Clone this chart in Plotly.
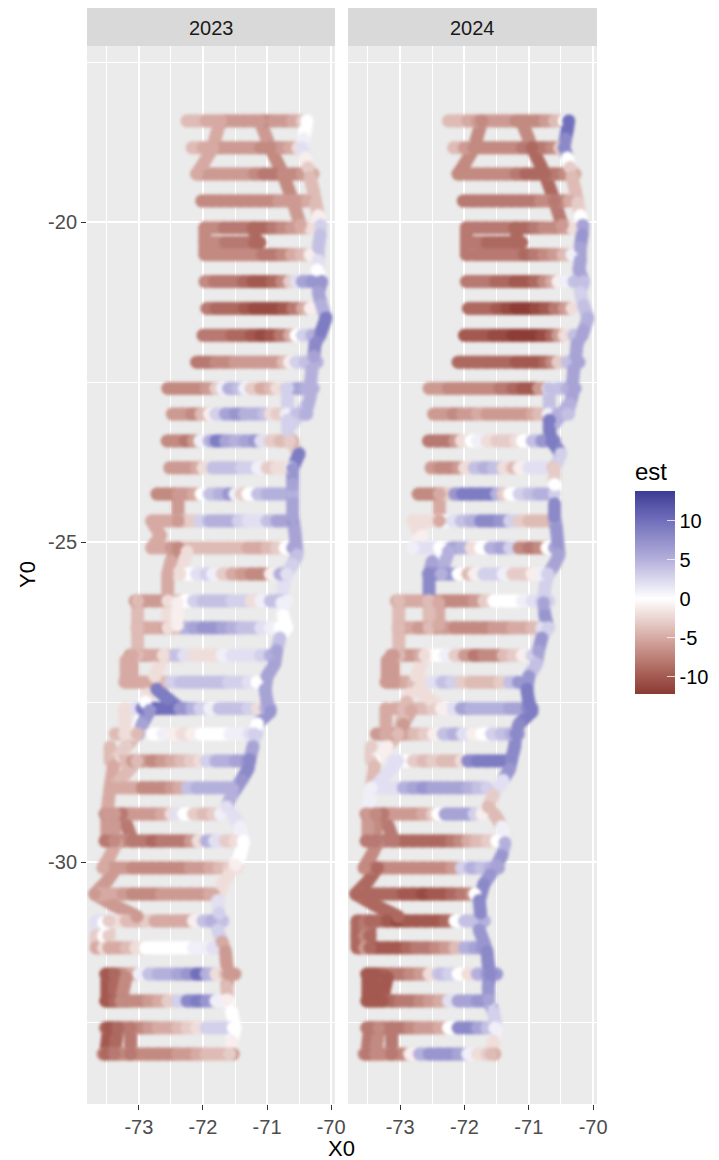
import plotly.graph_objects as go
from plotly.colors import sample_colorscale

W, H = 719, 1160
years = ["2023", "2024"]
x_ticks = [-73, -72, -71, -70]
x_labels = ["-73", "-72", "-71", "-70"]
x_minor = [-73.5, -72.5, -71.5, -70.5]
y_ticks = [-20, -25, -30]
y_labels = ["-20", "-25", "-30"]
y_minor = [-17.5, -22.5, -27.5, -32.5]
est_ticks = [10, 5, 0, -5, -10]
est_min, est_max = -12.2, 13.8
N = None

# survey transects: latitude, longitudes, est in each year
row_lat = [-18.42, -18.84, -19.25, -19.67, -20.09, -20.32, -20.51, -20.93, -21.35, -21.77, -22.19, -22.6,
           -23.0, -23.42, -23.84, -24.25, -24.67, -25.09, -25.5, -25.92, -26.34, -26.77, -27.19, -27.6,
           -28.0, -28.42, -28.84, -29.25, -29.67, -30.09, -30.5, -30.92, -31.34, -31.75, -32.17, -32.59, -33.0]
row_lon = [
 [-72.25,-72.1,-71.95,-71.8,-71.65,-71.5,-71.35,-71.2,-71.05,-70.9,-70.75,-70.6,-70.45,-70.38],
 [-72.17,-72.0,-71.85,-71.7,-71.55,-71.4,-71.25,-71.1,-70.95,-70.8,-70.65,-70.52,-70.45],
 [-72.1,-71.95,-71.8,-71.65,-71.5,-71.35,-71.2,-71.05,-70.9,-70.75,-70.6,-70.45,-70.28],
 [-72.02,-71.87,-71.72,-71.57,-71.42,-71.27,-71.12,-70.97,-70.82,-70.67,-70.52,-70.37],
 [-71.97,-71.82,-71.67,-71.52,-71.37,-71.22,-71.07,-70.92,-70.77,-70.62,-70.47,-70.33],
 [-71.94,-71.8,-71.65,-71.5,-71.35,-71.2,-71.11],
 [-71.97,-71.82,-71.67,-71.52,-71.37,-71.22,-71.07,-70.92,-70.77,-70.62,-70.47,-70.33],
 [-71.97,-71.82,-71.67,-71.52,-71.37,-71.22,-71.07,-70.92,-70.77,-70.65,-70.55,-70.45,-70.3,-70.15],
 [-71.94,-71.8,-71.65,-71.5,-71.35,-71.2,-71.05,-70.9,-70.75,-70.6,-70.45,-70.33],
 [-72.0,-71.85,-71.7,-71.55,-71.4,-71.25,-71.1,-70.95,-70.8,-70.65,-70.55,-70.45,-70.3,-70.17],
 [-72.1,-71.95,-71.8,-71.65,-71.5,-71.35,-71.2,-71.05,-70.9,-70.75,-70.65,-70.55,-70.4,-70.22],
 [-72.55,-72.4,-72.25,-72.1,-71.95,-71.8,-71.7,-71.6,-71.45,-71.35,-71.25,-71.1,-70.95,-70.85,-70.7,-70.55,-70.4,-70.28],
 [-72.48,-72.33,-72.18,-72.03,-71.9,-71.8,-71.65,-71.5,-71.35,-71.2,-71.05,-70.95,-70.85,-70.7,-70.55,-70.38],
 [-72.56,-72.42,-72.28,-72.15,-72.05,-71.9,-71.8,-71.65,-71.5,-71.35,-71.2,-71.1,-70.95,-70.8,-70.6],
 [-72.52,-72.38,-72.24,-72.1,-72.0,-71.85,-71.7,-71.55,-71.4,-71.25,-71.15,-71.0,-70.85,-70.62],
 [-72.72,-72.58,-72.44,-72.3,-72.15,-72.03,-71.9,-71.75,-71.6,-71.5,-71.4,-71.3,-71.15,-71.0,-70.85,-70.6],
 [-72.8,-72.65,-72.5,-72.35,-72.2,-72.05,-71.9,-71.75,-71.6,-71.45,-71.3,-71.15,-71.0,-70.85,-70.6],
 [-72.8,-72.65,-72.5,-72.35,-72.2,-72.05,-71.9,-71.75,-71.6,-71.45,-71.3,-71.15,-71.0,-70.85,-70.72,-70.6],
 [-72.56,-72.4,-72.25,-72.1,-71.95,-71.85,-71.7,-71.55,-71.4,-71.25,-71.1,-70.95,-70.8,-70.72],
 [-73.06,-72.9,-72.75,-72.6,-72.45,-72.3,-72.15,-72.0,-71.85,-71.7,-71.55,-71.4,-71.25,-71.1,-70.95,-70.8,-70.69],
 [-73.03,-72.88,-72.72,-72.58,-72.45,-72.3,-72.15,-72.0,-71.85,-71.7,-71.55,-71.4,-71.25,-71.1,-70.95,-70.8,-70.69],
 [-73.14,-73.0,-72.85,-72.7,-72.58,-72.45,-72.3,-72.15,-72.0,-71.85,-71.7,-71.55,-71.4,-71.25,-71.1,-70.95],
 [-73.22,-73.08,-72.94,-72.8,-72.65,-72.5,-72.35,-72.2,-72.05,-71.9,-71.75,-71.6,-71.45,-71.3,-71.16],
 [-73.1,-72.95,-72.8,-72.65,-72.5,-72.35,-72.2,-72.05,-71.9,-71.75,-71.6,-71.45,-71.3,-71.15,-71.02,-70.95],
 [-73.37,-73.22,-73.08,-72.93,-72.78,-72.63,-72.48,-72.33,-72.18,-72.03,-71.88,-71.73,-71.58,-71.43,-71.28,-71.16],
 [-73.4,-73.25,-73.1,-72.95,-72.8,-72.65,-72.5,-72.35,-72.2,-72.05,-71.95,-71.8,-71.65,-71.5,-71.31],
 [-73.4,-73.25,-73.1,-72.95,-72.8,-72.65,-72.5,-72.38,-72.25,-72.1,-71.95,-71.8,-71.65,-71.53],
 [-73.53,-73.4,-73.25,-73.1,-72.95,-72.8,-72.65,-72.5,-72.42,-72.3,-72.15,-72.0,-71.85,-71.73],
 [-73.53,-73.4,-73.25,-73.1,-72.95,-72.8,-72.65,-72.5,-72.35,-72.2,-72.08,-71.95,-71.82,-71.65,-71.5,-71.37],
 [-73.56,-73.4,-73.25,-73.1,-72.95,-72.8,-72.65,-72.5,-72.35,-72.2,-72.05,-71.9,-71.75,-71.6,-71.47],
 [-73.69,-73.55,-73.4,-73.25,-73.1,-72.95,-72.8,-72.65,-72.5,-72.35,-72.2,-72.05,-71.9,-71.84],
 [-73.66,-73.5,-73.35,-73.2,-73.05,-72.9,-72.75,-72.6,-72.45,-72.3,-72.15,-72.0,-71.87,-71.69],
 [-73.66,-73.5,-73.35,-73.2,-73.05,-72.9,-72.75,-72.6,-72.45,-72.3,-72.15,-72.0,-71.85,-71.73],
 [-73.52,-73.42,-73.28,-73.13,-73.0,-72.85,-72.7,-72.55,-72.4,-72.25,-72.1,-71.95,-71.8,-71.65,-71.5],
 [-73.52,-73.42,-73.28,-73.13,-73.0,-72.85,-72.7,-72.55,-72.4,-72.25,-72.1,-71.95,-71.8,-71.6],
 [-73.52,-73.42,-73.28,-73.13,-73.0,-72.85,-72.7,-72.55,-72.4,-72.25,-72.1,-71.95,-71.8,-71.65,-71.53],
 [-73.56,-73.45,-73.3,-73.15,-73.0,-72.85,-72.7,-72.55,-72.4,-72.25,-72.1,-71.95,-71.8,-71.65,-71.53],
]
row_est_2023 = [
 [-4,-4,-5,-5,-6,-6,-6,-6,-7,-6,-6,-5,-3,0],
 [-4,-5,-6,-6,-6,-6,-6,-7,-7,-6,-5,-2,1],
 [-6,-6,-6,-6,-6,-6,-7,-8,-8,-7,-7,-6,-5],
 [-7,-7,-7,-7,-7,-7,-7,-7,-6,-6,-6,-5],
 [-7,-7,-8,-8,-8,-9,-9,-8,-7,-6,-5,-2],
 [-7,-7,-8,-8,-8,-9,-9],
 [-7,-7,-7,-7,-7,-7,-8,-8,-7,-5,-4,-1],
 [-7,-8,-8,-8,-9,-10,-10,-9,-7,-3,2,6,7,7],
 [-8,-9,-9,-9,-10,-11,-11,-11,-10,-8,-5,-1],
 [-8,-8,-8,-9,-9,-10,-11,-10,-8,-5,0,3,5,8],
 [-8,-8,-7,-7,-6,-6,-6,-6,-6,-4,-1,3,4,5],
 [-7,-7,-7,-7,-6,-3,1,5,4,1,-3,-5,-4,-2,3,6,5,5],
 [-6,-6,-7,-4,-1,3,6,7,5,5,4,-2,-3,1,4,5],
 [-7,-7,-8,-6,1,5,9,6,5,6,7,2,-3,-4,-5],
 [-6,-6,-6,-5,-2,4,4,4,3,3,1,-3,-2,0],
 [-7,-7,-7,-6,-5,0,4,5,7,1,-3,0,4,5,5,5],
 [-5,-5,-5,-4,-3,3,5,5,5,3,2,2,4,6,7],
 [-5,-5,-6,-4,-4,-4,-4,-4,-4,-4,-5,-5,-4,-3,0,6],
 [N,-2,0,2,3,1,-3,-5,-6,-7,-7,-1,5,6],
 [-6,-6,-6,-6,-4,0,3,4,4,4,3,3,-2,1,4,4,1],
 [-5,-5,-5,-6,-4,5,6,7,7,6,5,4,4,2,1,0,0],
 [-6,-6,-5,-5,-3,4,2,-2,-2,-2,1,2,2,2,3,5],
 [-5,-5,-5,-5,-4,3,4,4,4,4,4,3,3,2,0],
 [2,9,11,10,10,8,5,3,1,4,4,4,3,-2,5,6],
 [-4,-3,-2,-1,0,1,-1,-2,-1,0,0,0,1,1,2,3],
 [-4,-4,-6,-6,-7,-6,-5,-4,-3,-2,3,5,5,6,7],
 [-5,-5,-5,-7,-7,-7,-6,-5,4,5,5,5,5,5],
 [-7,-7,-7,-6,-6,-6,-5,-2,2,0,-3,-4,-3,1],
 [-8,-8,-7,-8,-8,-9,-8,-8,-8,-6,-2,5,2,-3,-2,0],
 [-6,-6,-6,-7,-7,-7,-7,-7,-7,-6,-6,-5,-4,-3,-2],
 [-4,-5,-5,-6,-7,-7,-7,-6,-6,-6,-6,-6,-5,-5],
 [2,1,-2,-4,-4,-3,-5,-5,-5,-5,-1,4,5,4],
 [-6,-5,-5,-4,-2,0,0,0,0,0,1,1,2,2],
 [-9,-9,-7,-5,1,4,5,5,6,7,10,5,-2,-4,-6],
 [-10,-10,-9,-7,-7,-6,-5,-3,3,8,9,7,1,0],
 [-9,-9,-8,-7,-7,-6,-5,-5,-4,-3,-2,3,3,3,0],
 [-7,-7,-7,-7,-7,-7,-7,-7,-6,-6,-5,-4,-4,-4,-6],
]
row_est_2024 = [
 [-4,-4,-5,-6,-6,-6,-6,-7,-7,-7,-6,-4,0,8],
 [-4,-6,-7,-7,-7,-7,-7,-8,-9,-8,-7,-3,3],
 [-7,-7,-7,-7,-7,-7,-8,-9,-9,-8,-8,-7,-5],
 [-8,-8,-8,-8,-8,-8,-8,-8,-7,-7,-7,-5],
 [-8,-8,-8,-8,-8,-9,-9,-8,-7,-7,-6,-2],
 [-8,-8,-9,-9,-9,-9,-9],
 [-7,-8,-8,-8,-8,-8,-9,-8,-7,-6,-4,1],
 [-8,-8,-8,-9,-9,-10,-10,-9,-7,-5,-1,1,4,6],
 [-9,-9,-9,-10,-11,-12,-12,-11,-10,-8,-6,-2],
 [-10,-10,-10,-11,-11,-12,-12,-12,-11,-9,-6,-2,4,6],
 [-9,-9,-9,-9,-9,-9,-10,-10,-10,-9,-7,-3,4,6],
 [-6,-6,-7,-7,-7,-7,-7,-7,-8,-8,-9,-10,-10,-6,1,4,5,6],
 [-6,-6,-7,-6,-6,-5,-6,-6,-6,-6,-6,-5,-4,1,5,4],
 [-8,-8,-8,-6,-2,0,1,-2,-3,-3,-2,0,4,7,8],
 [-6,-7,-7,-6,-2,4,5,4,-2,-4,-1,2,2,-4],
 [-7,-7,-7,-3,7,9,9,9,9,5,-3,0,3,4,5,3],
 [-2,-2,-2,0,2,4,5,8,8,7,3,-3,-4,-4,6],
 [2,2,2,1,6,5,-2,0,5,6,3,-7,-8,-7,0,6],
 [8,8,7,0,-4,-1,3,3,1,-3,-3,-1,1,2],
 [-5,-5,-5,-5,-6,-7,-7,-7,-6,-3,0,0,0,1,2,3,3],
 [-5,-5,-6,-6,-6,-6,-7,-7,-7,-7,-6,-6,-5,-5,-4,2,3],
 [-6,-6,-6,-5,-1,0,1,-3,-6,-8,-7,-7,-4,-3,-1,3],
 [-6,-6,-5,-4,-2,2,4,3,-3,-4,-4,-4,-3,4,7],
 [-5,-4,-4,-4,-3,-1,2,6,5,5,5,5,6,6,8,9],
 [-6,-6,-6,-5,-4,-3,-1,4,5,2,-1,0,3,4,5,7],
 [N,N,2,0,-3,-4,-3,-4,-4,-2,8,9,9,9,9],
 [2,2,2,5,6,7,6,6,6,6,5,4,3,N],
 [-7,-7,-7,-6,-6,-6,-5,-3,0,6,6,6,3,-1],
 [-8,-8,-8,-8,-9,-9,-9,-9,-9,-8,-7,-5,-4,-3,0,N],
 [-8,-8,-7,-7,-7,-7,-7,-7,-7,-6,3,5,4,5,6],
 [-8,-9,-9,-9,-9,-10,-10,-11,-10,-10,-9,-8,-7,0],
 [-8,-8,-9,-10,-11,-10,-10,-10,-10,-9,0,4,4,5],
 [-9,-9,-10,-10,-10,-9,-8,-8,-7,-6,-4,5,6,7],
 [-10,-10,-9,-8,-8,-7,-6,-2,4,3,0,-2,5,7,7],
 [-10,-10,-9,-9,-8,-8,-7,-6,-5,2,6,6,7,1],
 [-8,-8,-8,-8,-8,-7,-6,-6,-5,0,8,8,6,4,1],
 [-7,-7,-7,-7,-7,-1,5,7,7,7,6,1,-2,-3,-5],
]

# connecting tracks and the coastal track
path_lon = [
 [-71.73,-71.85,-72.0,-72.1],
 [-71.11,-70.95,-70.75,-70.6,-70.48],
 [-71.97,-71.97,-71.97],
 [-71.19,-71.19],
 [-72.39,-72.39],
 [-72.8,-72.66,-72.8],
 [-72.39,-72.5,-72.55,-72.55],
 [-72.25,-72.36],
 [-72.55,-72.55],
 [-73.02,-73.02,-73.02],
 [-72.4,-72.4],
 [-73.1,-73.1],
 [-73.2,-73.2],
 [-72.62,-72.75,-72.9,-73.03],
 [-72.72,-72.55,-72.36],
 [-72.83,-72.95,-73.0],
 [-73.22,-73.22],
 [-73.03,-73.2,-73.4],
 [-73.45,-73.45],
 [-73.03,-73.4],
 [-73.4,-73.45,-73.5,-73.5],
 [-73.27,-73.18,-73.1],
 [-73.35,-73.45,-73.56],
 [-73.35,-73.5,-73.69,-73.4,-73.03],
 [-73.67,-73.67,-73.67],
 [-73.55,-73.55,-73.55],
 [-73.5,-73.5],
 [-73.38,-73.38],
 [-73.2,-73.28],
 [-73.47,-73.52],
 [-73.33,-73.38],
 [-73.13,-73.13],
 [-70.68,-70.68],
 [-70.38,-70.6],
 [-73.38,-73.38],
 [-73.47,-73.47,-73.47],
 [-70.38,-70.4,-70.43,-70.45,-70.4,-70.36,-70.33,-70.28,-70.24,-70.2,-70.16,-70.17,-70.2,-70.2,-70.22,-70.15,-70.2,-70.15,-70.08,-70.15,-70.25,-70.27,-70.3,-70.32,-70.32,-70.36,-70.4],
 [-70.68,-70.68,-70.64,-70.5,-70.6,-70.6,-70.6,-70.6,-70.57,-70.55,-70.53,-70.6,-70.7,-70.75,-70.77,-70.75,-70.7,-70.8,-70.85,-70.88,-71.0,-71.03,-71.0,-70.95,-71.15,-71.2,-71.22,-71.27,-71.3,-71.4,-71.55,-71.63,-71.5,-71.42,-71.37,-71.42,-71.5,-71.6,-71.7,-71.77,-71.75,-71.77,-71.7,-71.65,-71.63,-71.6,-71.63,-71.62,-71.55,-71.5,-71.55,-71.58],
]
path_lat = [
 [-18.42,-18.84,-19.1,-19.25],
 [-18.42,-18.84,-19.25,-19.67,-20.05],
 [-20.09,-20.32,-20.51],
 [-20.09,-20.32],
 [-24.25,-24.67],
 [-24.67,-24.9,-25.09],
 [-25.09,-25.3,-25.5,-25.92],
 [-25.15,-25.5],
 [-25.92,-26.34],
 [-25.92,-26.34,-26.77],
 [-25.95,-26.3],
 [-26.77,-27.19],
 [-26.85,-27.19],
 [-26.77,-27.1,-27.5,-28.0],
 [-27.3,-27.45,-27.6],
 [-27.63,-27.85,-28.0],
 [-27.6,-28.0],
 [-28.0,-28.2,-28.42],
 [-28.2,-28.42],
 [-28.42,-28.84],
 [-28.5,-28.84,-29.25,-29.67],
 [-29.25,-29.45,-29.67],
 [-29.7,-29.9,-30.09],
 [-30.09,-30.3,-30.5,-30.67,-30.85],
 [-30.92,-31.15,-31.34],
 [-30.95,-31.15,-31.34],
 [-31.75,-32.17],
 [-31.75,-32.17],
 [-31.8,-32.17],
 [-32.59,-33.0],
 [-32.59,-33.0],
 [-32.59,-33.0],
 [-22.6,-23.1],
 [-22.85,-23.15],
 [-29.25,-29.67],
 [-30.92,-31.15,-31.34],
 [-18.42,-18.55,-18.7,-18.84,-19.0,-19.15,-19.3,-19.5,-19.7,-19.9,-20.05,-20.2,-20.4,-20.6,-20.75,-20.93,-21.1,-21.3,-21.5,-21.7,-21.9,-22.1,-22.3,-22.5,-22.7,-22.85,-23.0],
 [-23.1,-23.25,-23.42,-23.62,-23.85,-24.1,-24.4,-24.6,-24.8,-25.0,-25.2,-25.35,-25.5,-25.7,-25.95,-26.15,-26.34,-26.5,-26.7,-26.9,-27.1,-27.3,-27.5,-27.65,-27.84,-28.0,-28.2,-28.4,-28.55,-28.72,-28.95,-29.14,-29.3,-29.45,-29.7,-29.9,-30.05,-30.2,-30.35,-30.6,-30.8,-31.06,-31.25,-31.4,-31.6,-31.75,-31.95,-32.15,-32.35,-32.6,-32.8,-33.0],
]
path_est_2023 = [
 [-5,-5,-5,-5],
 [-6,-7,-7,-6,-5],
 [-7,-7,-7],
 [-9,-9],
 [-6,-6],
 [-5,-5,-5],
 [-7,-5,-5,-5],
 [-2,-2],
 [-2,-2],
 [-4,-4,-4],
 [-1,-1],
 [-5,-5],
 [-5,-5],
 [-2,-2,0,0],
 [9,9,7],
 [7,6,5],
 [-2,-2],
 [-4,-3,-2],
 [-4,-4],
 [-4,-5],
 [-5,-5,-6,-8],
 [-8,-8,-8],
 [-5,-5,-5],
 [-6,-6,-6,-6,-6],
 [2,-3,-5],
 [0,0,-2],
 [-10,-10],
 [-9,-9],
 [-7,-7],
 [-10,-9],
 [-9,-8],
 [-8,-8],
 [3,3],
 [3,3],
 [-6,-7],
 [-3,-3,-5],
 [0,0,1,2,-1,-3,-4,-4,-4,-1,3,4,4,2,0,7,6,5,9,9,8,6,5,5,5,5,5],
 [3,3,-3,9,7,6,6,6,6,6,4,3,2,2,1,0,0,4,6,6,6,6,6,7,0,3,6,8,8,7,5,2,2,1,0,0,-1,-2,-2,2,3,3,-5,-6,-6,-6,-4,-1,0,0,-1,-3],
]
path_est_2024 = [
 [-7,-7,-7,-7],
 [-7,-9,-9,-8,-6],
 [-8,-8,-8],
 [-9,-9],
 [-5,-5],
 [-2,-1,1],
 [0,6,8,1],
 [5,5],
 [-4,-4],
 [-4,-4,-4],
 [-5,-5],
 [-6,-6],
 [-6,-6],
 [-2,-2,-4,-5],
 [-2,-2,-1],
 [-5,-6,-6],
 [-5,-5],
 [-4,-1,0],
 [-3,-3],
 [2,2],
 [-4,1,-6,-8],
 [-8,-8,-8],
 [-7,-7,-7],
 [-9,-9,-9,-9,-9],
 [-9,-9,-9],
 [-8,-7,-6],
 [-10,-10],
 [-10,-10],
 [-10,-10],
 [-8,-8],
 [-7,-7],
 [-8,-8],
 [4,9],
 [5,5],
 [-7,-8],
 [-9,-9,-9],
 [10,10,8,8,0,-3,-4,-4,-3,0,6,7,6,6,6,4,3,4,5,6,6,6,6,6,6,5,4],
 [9,9,9,3,-3,0,8,8,7,7,6,6,3,3,6,7,3,7,6,4,7,9,9,9,8,8,8,8,7,2,-3,-4,-4,1,5,7,6,7,8,8,8,7,7,8,8,8,7,6,3,1,-2,-4],
]

stops = [(-12.2, "#8b3a33"), (-10, "#a3594f"), (-5, "#d6aaa3"), (0, "#ffffff"),
         (5, "#b4b0dc"), (10, "#716fbb"), (13.8, "#3c3c96")]
colorscale = [[(v - est_min) / (est_max - est_min), c] for v, c in stops]


def colour(v):
    return sample_colorscale(colorscale, [(v - est_min) / (est_max - est_min)])[0]


fig = go.Figure()
px_x = lambda a: a / W
px_y = lambda a: 1 - a / H
panels = [(87, 335), (348, 597)]
LINE_W, MARKER = 13, 13

for i, (year, row_est, path_est) in enumerate(zip(years, (row_est_2023, row_est_2024), (path_est_2023, path_est_2024))):
    xa, ya = ("x", "y") if i == 0 else ("x2", "y2")
    mx, my, mc = [], [], []
    segs = {}

    def add(lons, lats, ests):
        for k, (a, b, c) in enumerate(zip(lons, lats, ests)):
            if c is None:
                continue
            mx.append(a); my.append(b); mc.append(c)
            if k + 1 < len(lons) and k + 1 < len(ests) and ests[k + 1] is not None:
                s = segs.setdefault(c, ([], []))
                s[0].extend([a, lons[k + 1], None])
                s[1].extend([b, lats[k + 1], None])

    for lat, lons, ests in zip(row_lat, row_lon, row_est):
        add(lons, [lat] * len(lons), ests)
    for lons, lats, ests in zip(path_lon, path_lat, path_est):
        add(lons, lats, ests)

    for c, (sx, sy) in sorted(segs.items()):
        fig.add_trace(go.Scatter(x=sx, y=sy, mode="lines", xaxis=xa, yaxis=ya, showlegend=False,
                                 hoverinfo="skip", line=dict(color=colour(c), width=LINE_W)))
    marker = dict(size=MARKER, color=mc, colorscale=colorscale, cmin=est_min, cmax=est_max, line=dict(width=0), opacity=1)
    if i == 0:
        marker.update(showscale=True, colorbar=dict(
            title=dict(text="est", side="top", font=dict(size=24, color="#000000")),
            x=635 / W, xanchor="left", xpad=0, ypad=0, y=px_y(576.5), yanchor="middle",
            len=235 / H, lenmode="fraction", thickness=40, thicknessmode="pixels",
            tickvals=est_ticks, ticktext=[str(v) for v in est_ticks], ticks="inside", ticklen=8,
            tickcolor="rgba(255,255,255,0.75)", tickwidth=1, outlinewidth=0, tickprefix="\u00a0\u00a0",
            tickfont=dict(size=20, color="#000000")))
    fig.add_trace(go.Scatter(x=mx, y=my, mode="markers", marker=marker, xaxis=xa, yaxis=ya,
                             showlegend=False, name=year))

common_x = dict(range=[-73.81, -69.94], tickvals=x_ticks, ticktext=x_labels, showgrid=True, gridcolor="white",
                gridwidth=2, ticks="outside", ticklen=5, tickcolor="#333333", tickwidth=1, zeroline=False,
                tickfont=dict(size=20, color="#4d4d4d"),
                minor=dict(tickvals=x_minor, showgrid=True, gridcolor="white", gridwidth=1, ticks=""))
common_y = dict(range=[-33.78, -17.25], tickvals=y_ticks, ticktext=y_labels, showgrid=True, gridcolor="white",
                gridwidth=2, zeroline=False,
                minor=dict(tickvals=y_minor, showgrid=True, gridcolor="white", gridwidth=1, ticks=""))
y_dom = [1 - 1104 / H, 1 - 46 / H]
fig.update_layout(
    width=W, height=H, margin=dict(l=0, r=0, t=0, b=0, autoexpand=False), paper_bgcolor="white", plot_bgcolor="#EBEBEB",
    font=dict(family="Liberation Sans, Arial, sans-serif"), showlegend=False,
    xaxis=dict(domain=[87 / W, 335 / W], anchor="y", **common_x),
    xaxis2=dict(domain=[348 / W, 597 / W], anchor="y2", **common_x),
    yaxis=dict(domain=y_dom, anchor="x", ticks="outside", ticklen=5, tickcolor="#333333",
               tickfont=dict(size=20, color="#4d4d4d"), **common_y),
    yaxis2=dict(domain=y_dom, anchor="x2", ticks="", showticklabels=False, **common_y),
)
shapes = []
for (a, b), year in zip(panels, years):
    shapes.append(dict(type="rect", xref="paper", yref="paper", x0=px_x(a), x1=px_x(b), y0=px_y(46), y1=px_y(8),
                       fillcolor="#D9D9D9", line=dict(width=0), layer="below"))
    fig.add_annotation(xref="paper", yref="paper", x=px_x((a + b) / 2), y=px_y(28), text=year, showarrow=False,
                       font=dict(size=20, color="#1a1a1a"), xanchor="center", yanchor="middle")
for yy in (521, 559, 637, 676.5, 598):
    shapes.append(dict(type="line", xref="paper", yref="paper", x0=px_x(635), x1=px_x(643), y0=px_y(yy), y1=px_y(yy),
                       line=dict(color="rgba(255,255,255,0.75)", width=1), layer="above"))
fig.update_layout(shapes=shapes)
fig.add_annotation(xref="paper", yref="paper", x=px_x(341), y=px_y(1148), text="X0", showarrow=False,
                   xanchor="center", yanchor="middle", font=dict(size=22, color="#000000"))
fig.add_annotation(xref="paper", yref="paper", x=px_x(27), y=px_y(575), text="Y0", showarrow=False, textangle=-90,
                   xanchor="center", yanchor="middle", font=dict(size=22, color="#000000"))

fig.write_html("out.html", config=dict(displayModeBar=False),
               post_script="document.body.style.margin='0';"
                           "document.querySelectorAll('.scatterlayer').forEach(function(g){g.style.filter='blur(1.4px)';});")
